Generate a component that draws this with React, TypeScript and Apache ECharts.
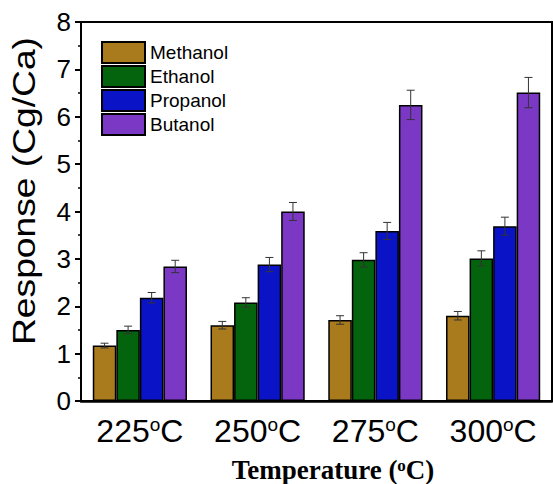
import React, { useEffect, useRef } from "react";
import * as echarts from "echarts";

const categories = ["225", "250", "275", "300"];
const seriesNames = ["Methanol", "Ethanol", "Propanol", "Butanol"];
const methanol = [1.17, 1.6, 1.71, 1.8];
const ethanol = [1.5, 2.08, 2.98, 3.01];
const propanol = [2.18, 2.88, 3.59, 3.69];
const butanol = [2.84, 4.0, 6.25, 6.51];
const methanolErr = [0.05, 0.08, 0.09, 0.09];
const ethanolErr = [0.08, 0.1, 0.15, 0.16];
const propanolErr = [0.11, 0.15, 0.18, 0.19];
const butanolErr = [0.13, 0.19, 0.31, 0.32];
const colors = ["#A97B1C", "#03640D", "#0A14C6", "#7A38C4"];
const yTicks = [0, 1, 2, 3, 4, 5, 6, 7, 8];

const SANS = '"Liberation Sans", Arial, sans-serif';
const SERIF = '"Liberation Serif", "Times New Roman", serif';

export default function App() {
  const ref = useRef<HTMLDivElement>(null);
  useEffect(() => {
    if (!ref.current) return;
    const chart = echarts.init(ref.current, undefined, { renderer: "svg" });
    const values = [methanol, ethanol, propanol, butanol];
    const errs = [methanolErr, ethanolErr, propanolErr, butanolErr];
    const errData: number[][] = [];
    values.forEach((arr, s) =>
      arr.forEach((v, i) => errData.push([i, v, errs[s][i], s]))
    );
    const nSeries = values.length;
    const option: any = {
      animation: false,
      backgroundColor: "#fff",
      grid: {
        left: 81,
        right: 1,
        top: 22,
        bottom: 83,
        show: true,
        borderColor: "#000",
        borderWidth: 2,
      },
      legend: {
        data: seriesNames,
        orient: "vertical",
        left: 101,
        top: 41,
        padding: 0,
        icon: "rect",
        itemWidth: 43,
        itemHeight: 21,
        itemGap: 1,
        textStyle: { fontSize: 19, fontFamily: SANS, color: "#000" },
      },
      xAxis: [
        {
          type: "category",
          data: categories,
          position: "bottom",
          axisLine: { lineStyle: { color: "#000", width: 2.5 } },
          axisTick: {
            alignWithLabel: true,
            length: 8,
            lineStyle: { color: "#000", width: 2 },
          },
          axisLabel: {
            margin: 14,
            color: "#000",
            formatter: (v: string) => `{n|${v}}{o|o}{n|C}`,
            rich: {
              n: { fontSize: 32, fontFamily: SANS, color: "#000" },
              o: {
                fontSize: 19,
                fontFamily: SANS,
                color: "#000",
                verticalAlign: "top",
              },
            },
          },
        },
        {
          type: "category",
          data: categories,
          position: "bottom",
          offset: 0,
          axisLine: { show: false },
          axisLabel: { show: false },
          axisTick: { length: 4, lineStyle: { color: "#000", width: 2 } },
        },
      ],
      yAxis: {
        type: "value",
        min: yTicks[0],
        max: yTicks[yTicks.length - 1],
        interval: 1,
        axisLine: { show: true, lineStyle: { color: "#000", width: 2 } },
        axisTick: { show: true, length: 6, lineStyle: { color: "#000", width: 2 } },
        minorTick: {
          show: true,
          splitNumber: 2,
          length: 3,
          lineStyle: { color: "#000", width: 1.5 },
        },
        splitLine: { show: false },
        axisLabel: {
          margin: 10,
          fontSize: 26,
          fontFamily: SANS,
          color: "#000",
        },
      },
      series: [
        ...values.map((arr, s) => ({
          type: "bar",
          name: seriesNames[s],
          data: arr,
          barGap: "0%",
          barCategoryGap: "20%",
          itemStyle: { color: colors[s], borderColor: "#000", borderWidth: 1.5 },
        })),
        {
          type: "custom",
          name: "errors",
          data: errData,
          z: 10,
          encode: { x: 0, y: 1 },
          renderItem: (params: any, api: any) => {
            const ci = api.value(0);
            const v = api.value(1);
            const e = api.value(2);
            const s = api.value(3);
            const band = api.coord([1, 0])[0] - api.coord([0, 0])[0];
            const bw = (band * 0.8) / nSeries;
            const c = api.coord([ci, v]);
            const x = c[0] - band * 0.4 + bw * (s + 0.5);
            const yHi = api.coord([ci, v + e])[1];
            const yLo = api.coord([ci, v - e])[1];
            const cap = 4;
            const st = { stroke: "#333", lineWidth: 1 };
            return {
              type: "group",
              children: [
                { type: "line", shape: { x1: x, y1: yHi, x2: x, y2: yLo }, style: st },
                { type: "line", shape: { x1: x - cap, y1: yHi, x2: x + cap, y2: yHi }, style: st },
                { type: "line", shape: { x1: x - cap, y1: yLo, x2: x + cap, y2: yLo }, style: st },
              ],
            };
          },
        },
      ],
      graphic: [
        {
          type: "text",
          x: 24,
          y: 191,
          rotation: Math.PI / 2,
          scaleX: 1.2,
          style: {
            text: "Response (Cg/Ca)",
            fontSize: 31,
            fontFamily: SANS,
            fill: "#000",
            align: "center",
            verticalAlign: "middle",
          },
        },
        {
          type: "text",
          x: 333,
          y: 470,
          style: {
            text: "{b|Temperature (}{o|o}{b|C)}",
            align: "center",
            verticalAlign: "middle",
            rich: {
              b: { fontSize: 27, fontFamily: SERIF, fontWeight: "bold", fill: "#000" },
              o: {
                fontSize: 17,
                fontFamily: SERIF,
                fontWeight: "bold",
                fill: "#000",
                verticalAlign: "top",
              },
            },
          },
        },
      ],
    };
    chart.setOption(option);
    return () => chart.dispose();
  }, []);
  return (
    <div
      ref={ref}
      style={{ position: "fixed", left: 0, top: 0, width: 553, height: 484 }}
    />
  );
}
